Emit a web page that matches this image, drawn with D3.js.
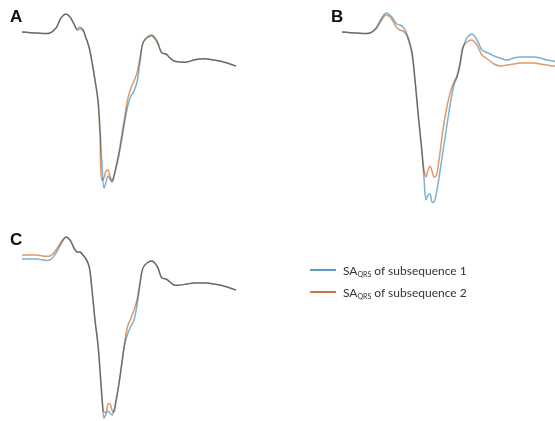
<!DOCTYPE html>
<html>
<head>
<meta charset="utf-8">
<script src="https://cdn.jsdelivr.net/npm/d3@7"></script>
<style>
  body { margin: 0; background: #fff; }
  svg { display: block; }
  .wave { fill: none; stroke-width: 1.5; mix-blend-mode: multiply; stroke-linejoin: round; }
</style>
</head>
<body>
<div id="chart"></div>
<script>
// sample offsets (shared by every trace)
const t = [0, 14, 28, 34, 39, 44, 48, 52, 55, 58, 61, 64, 67, 70, 73, 76, 78, 80, 82, 84,
  86, 88, 90, 92, 94, 97, 100, 103, 106, 109, 112, 115, 118, 121, 125, 130, 135, 140, 144, 148,
  152, 158, 165, 172, 178, 185, 192, 198, 205, 211, 214];

// panel A
const a1 = [1, 0, 0, 5, 15, 19, 16, 9, 4, 6, 3, -5, -14, -29, -47, -67, -95, -132, -155, -149,
  -143, -146, -149, -143, -135, -122, -105, -87, -72, -63, -58, -49, -29, -10, -5, -3, -9, -20, -21, -25,
  -28, -29, -29, -27, -26, -26, -27, -28, -30, -32, -33];
const a2 = [1, 0, 0, 5, 15, 19, 16, 9, 3, 4, 3, -5, -14, -29, -47, -69, -102, -147, -145, -138,
  -137, -143, -148, -143, -134, -119, -101, -82, -65, -55, -48, -40, -25, -10, -4, -2, -8, -20, -21, -25,
  -28, -29, -29, -27, -26, -26, -27, -28, -30, -32, -33];

// panel B
const b1 = [0, -1, -1, 4, 13, 19, 17, 12, 8, 7, 5, 0, -8, -20, -48, -81, -101, -121, -146, -168,
  -163, -162, -170, -170, -163, -146, -126, -106, -86, -68, -53, -45, -33, -16, -6, -2, -8, -18, -20, -22,
  -24, -26, -28, -26, -25, -25, -25, -26, -28, -29, -30];
const b2 = [0, -1, -1, 3, 11, 17, 15, 9, 4, 2, 1, -2, -10, -22, -48, -80, -100, -120, -138, -145,
  -138, -134, -139, -145, -144, -128, -105, -85, -70, -58, -50, -44, -31, -15, -10, -8, -13, -23, -26, -29,
  -32, -34, -33, -32, -31, -31, -31, -32, -33, -34, -34];

// panel C
const c1 = [-2, -2, -3, 4, 13, 20, 17, 9, 5, 5, 2, -2, -9, -33, -63, -88, -113, -138, -161, -157,
  -154, -156, -158, -153, -143, -126, -105, -86, -76, -69, -63, -48, -28, -11, -6, -4, -9, -21, -22, -25,
  -28, -28, -27, -26, -26, -26, -27, -28, -30, -32, -33];
const c2 = [2, 2, 1, 7, 15, 20, 17, 9, 5, 5, 2, -2, -9, -33, -63, -88, -113, -143, -155, -155,
  -147, -147, -153, -155, -145, -127, -105, -83, -68, -61, -53, -43, -25, -11, -6, -4, -9, -21, -22, -25,
  -28, -28, -27, -26, -26, -26, -27, -28, -30, -32, -33];

const seriesNames = ["of subsequence 1", "of subsequence 2"];
const colors = ["#7cb1d2", "#dc9a70"];

const W = 555, H = 421;
const svg = d3.select("#chart").append("svg").attr("width", W).attr("height", H);

const panels = [
  { label: "A", series: [a1, a2], x0: 22, base: 33, lx: 10, ly: 22 },
  { label: "B", series: [b1, b2], x0: 342, base: 32, lx: 331, ly: 22 },
  { label: "C", series: [c1, c2], x0: 22, base: 257, lx: 10, ly: 245 }
];

panels.forEach(p => {
  const x = d3.scaleLinear().domain([0, 214]).range([p.x0, p.x0 + 214]);
  const y = d3.scaleLinear().domain([0, -170]).range([p.base, p.base + 170]);
  const line = d3.line().x((d, i) => x(t[i])).y(d => y(d)).curve(d3.curveCatmullRom.alpha(0.5));
  const g = svg.append("g");
  p.series.forEach((s, k) => {
    g.append("path").attr("class", "wave").attr("d", line(s)).attr("stroke", colors[k]);
  });
  svg.append("text").attr("x", p.lx).attr("y", p.ly)
    .attr("font-family", "Liberation Sans, Arial, sans-serif")
    .attr("font-weight", "bold").attr("font-size", 17).attr("fill", "#111")
    .text(p.label);
});

// legend
const leg = svg.append("g").attr("transform", "translate(310,270)");
seriesNames.forEach((name, i) => {
  const row = leg.append("g").attr("transform", `translate(0,${i * 22})`);
  row.append("line").attr("x1", 0).attr("x2", 26).attr("y1", 0).attr("y2", 0)
    .attr("stroke", i ? "#c9774b" : "#5e9cc2").attr("stroke-width", 2);
  const tx = row.append("text").attr("x", 33).attr("y", 5)
    .attr("font-family", "Lato, Open Sans, sans-serif").attr("font-size", 12).attr("fill", "#333");
  tx.append("tspan").text("SA");
  tx.append("tspan").attr("font-size", 7).attr("dy", 2).text("QRS");
  tx.append("tspan").attr("dy", -2).text(" " + name);
});
</script>
</body>
</html>
